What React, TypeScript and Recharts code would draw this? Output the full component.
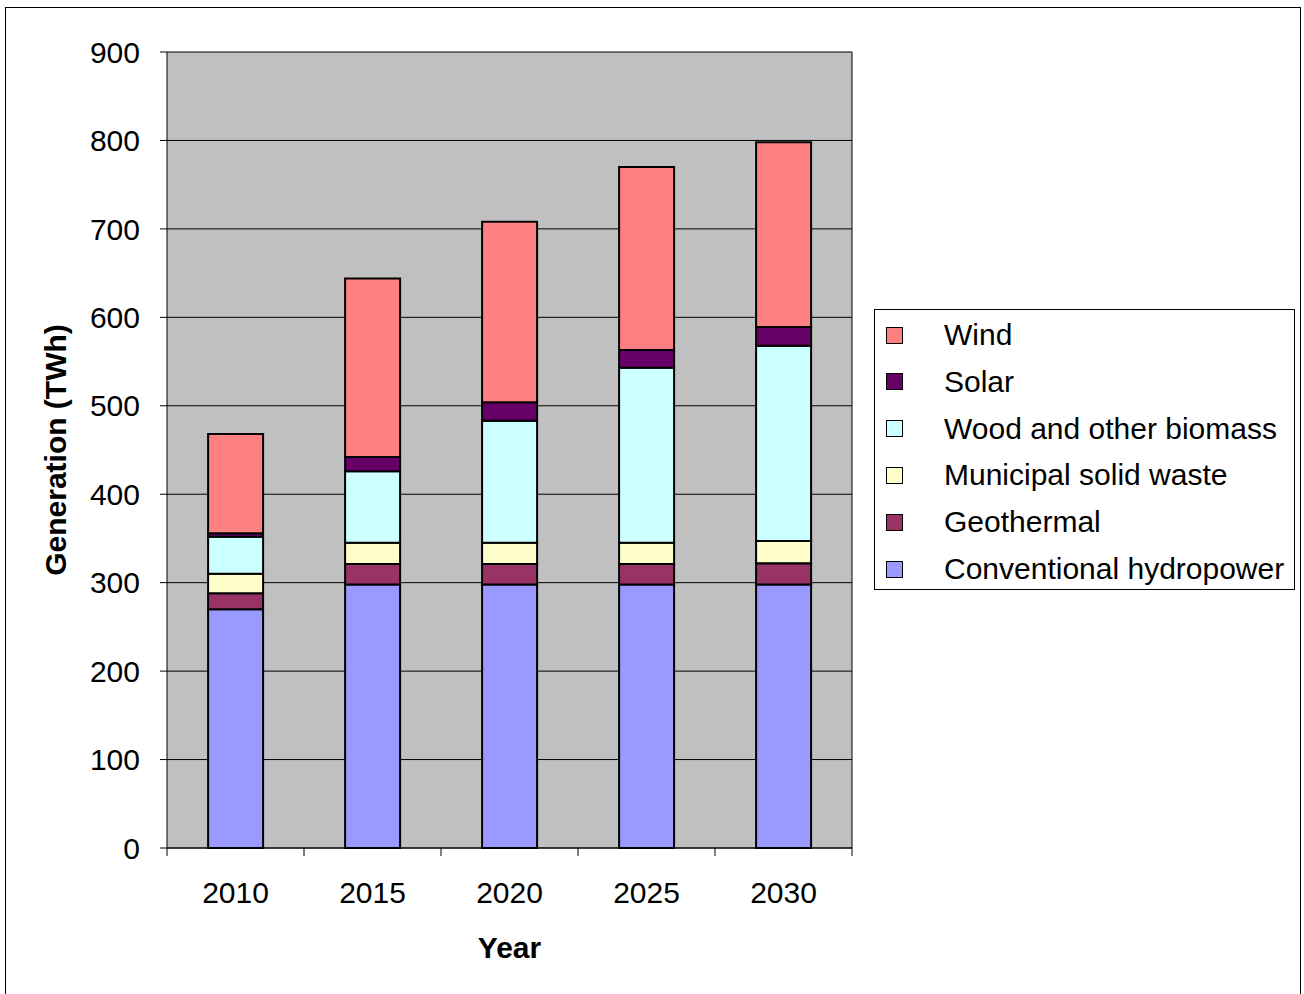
import { BarChart, Bar, XAxis, YAxis, CartesianGrid } from "recharts";

const years = ["2010", "2015", "2020", "2025", "2030"];
const hydro = [270, 298, 298, 298, 298];
const geothermal = [18, 23, 23, 23, 24];
const msw = [22, 24, 24, 24, 25];
const biomass = [42, 81, 138, 198, 221];
const solar = [4, 16, 21, 20, 21];
const wind = [112, 202, 204, 207, 209];
const yTicks = [0, 100, 200, 300, 400, 500, 600, 700, 800, 900];

const series = [
  { key: "hydro", name: "Conventional hydropower", color: "#9999FF", values: hydro },
  { key: "geo", name: "Geothermal", color: "#993366", values: geothermal },
  { key: "msw", name: "Municipal solid waste", color: "#FFFFCC", values: msw },
  { key: "bio", name: "Wood and other biomass", color: "#CCFFFF", values: biomass },
  { key: "solar", name: "Solar", color: "#660066", values: solar },
  { key: "wind", name: "Wind", color: "#FF8080", values: wind },
];

const data = years.map((year, i) => {
  const row: Record<string, string | number> = { year };
  series.forEach((s) => {
    row[s.key] = s.values[i];
  });
  return row;
});

const FONT = "'Liberation Sans', Arial, sans-serif";
const FS = 30;
const W = 1304;
const H = 994;
const M = { top: 52, right: 452, left: 0, bottom: 0 };
const Y_W = 167;
const X_H = 146;
const band = (W - M.right - Y_W) / years.length;

function YearTick(props: any) {
  const { x, y, payload, index } = props;
  const axisY = y - 34;
  return (
    <g>
      <line x1={x - band / 2} x2={x - band / 2} y1={axisY} y2={axisY + 8} stroke="#000" />
      {index === years.length - 1 && (
        <line x1={x + band / 2} x2={x + band / 2} y1={axisY} y2={axisY + 8} stroke="#000" />
      )}
      <text x={x} y={y} dy="0.71em" textAnchor="middle" fontSize={FS} fontFamily={FONT} fill="#000">
        {payload.value}
      </text>
    </g>
  );
}

function LegendBox() {
  return (
    <div
      style={{
        position: "absolute",
        left: 874,
        top: 309,
        width: 419,
        height: 279,
        border: "1px solid #000",
        background: "#fff",
        fontFamily: FONT,
        fontSize: FS,
        color: "#000",
      }}
    >
      {[...series].reverse().map((s, i) => (
        <div
          key={s.key}
          style={{
            position: "absolute",
            left: 0,
            top: 9 + i * 46.8,
            height: 32,
            display: "flex",
            alignItems: "center",
            whiteSpace: "nowrap",
          }}
        >
          <span
            style={{
              display: "inline-block",
              width: 15,
              height: 15,
              marginLeft: 11,
              background: s.color,
              border: "1px solid #000",
            }}
          />
          <span style={{ marginLeft: 41 }}>{s.name}</span>
        </div>
      ))}
    </div>
  );
}

export default function App() {
  return (
    <div style={{ position: "absolute", left: 0, top: 0, width: W, height: H, background: "#fff", overflow: "hidden" }}>
      <div
        style={{
          position: "absolute",
          left: 5,
          top: 7,
          width: 1294,
          height: 1000,
          border: "1px solid #000",
        }}
      />
      <div style={{ position: "absolute", left: 0, top: 0 }}>
        <BarChart width={W} height={H} data={data} margin={M} barCategoryGap="30%">
          <CartesianGrid
            fill="#C0C0C0"
            stroke="#000"
            verticalCoordinatesGenerator={({ offset }: any) => [offset.left + offset.width]}
          />
          <XAxis
            dataKey="year"
            height={X_H}
            axisLine={{ stroke: "#000" }}
            tickLine={false}
            tickSize={8}
            tickMargin={26}
            tick={<YearTick />}
            interval={0}
            label={{
              value: "Year",
              position: "insideBottom",
              offset: 36,
              style: { fontFamily: FONT, fontSize: FS, fontWeight: "bold", fill: "#000" },
            }}
          />
          <YAxis
            width={Y_W}
            domain={[0, 900]}
            ticks={yTicks}
            interval={0}
            axisLine={{ stroke: "#000" }}
            tickLine={{ stroke: "#000" }}
            tickSize={7}
            tickMargin={20}
            tick={{ fontFamily: FONT, fontSize: FS, fill: "#000" }}
            label={{
              value: "Generation (TWh)",
              angle: -90,
              position: "insideLeft",
              offset: 55,
              style: { textAnchor: "middle", fontFamily: FONT, fontSize: FS, fontWeight: "bold", fill: "#000" },
            }}
          />
          {series.map((s) => (
            <Bar
              key={s.key}
              dataKey={s.key}
              name={s.name}
              stackId="a"
              fill={s.color}
              stroke="#000"
              strokeWidth={2}
              isAnimationActive={false}
            />
          ))}
        </BarChart>
      </div>
      <LegendBox />
    </div>
  );
}
